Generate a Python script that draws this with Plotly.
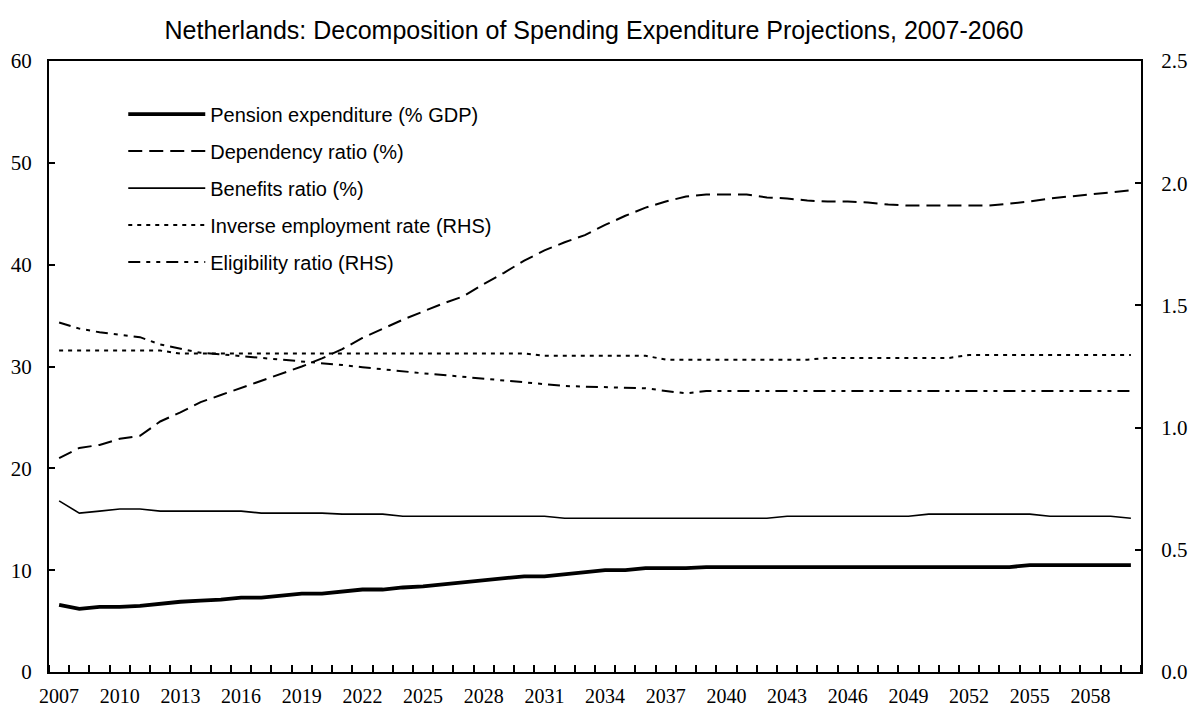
import plotly.graph_objects as go

# Projection years, 2007-2060
years = list(range(2007, 2061))
year_labels = [str(y) for y in range(2007, 2061, 3)]

# Left-hand scale series (%)
pension_exp = [6.6, 6.2, 6.4, 6.4, 6.5, 6.7, 6.9, 7.0, 7.1, 7.3,
               7.3, 7.5, 7.7, 7.7, 7.9, 8.1, 8.1, 8.3, 8.4, 8.6,
               8.8, 9.0, 9.2, 9.4, 9.4, 9.6, 9.8, 10.0, 10.0, 10.2,
               10.2, 10.2, 10.3, 10.3, 10.3, 10.3, 10.3, 10.3, 10.3, 10.3,
               10.3, 10.3, 10.3, 10.3, 10.3, 10.3, 10.3, 10.3, 10.5, 10.5,
               10.5, 10.5, 10.5, 10.5]
dependency_ratio = [21.0, 22.0, 22.3, 22.9, 23.2, 24.6, 25.5, 26.5, 27.2, 27.9,
                    28.6, 29.3, 30.0, 30.8, 31.7, 32.8, 33.7, 34.6, 35.4, 36.2,
                    36.9, 38.1, 39.2, 40.4, 41.4, 42.2, 42.9, 43.9, 44.8, 45.6,
                    46.2, 46.7, 46.9, 46.9, 46.9, 46.6, 46.5, 46.3, 46.2, 46.2,
                    46.1, 45.9, 45.8, 45.8, 45.8, 45.8, 45.8, 46.0, 46.2, 46.5,
                    46.7, 46.9, 47.1, 47.3]
benefits_ratio = [16.8, 15.6, 15.8, 16.0, 16.0, 15.8, 15.8, 15.8, 15.8, 15.8,
                  15.6, 15.6, 15.6, 15.6, 15.5, 15.5, 15.5, 15.3, 15.3, 15.3,
                  15.3, 15.3, 15.3, 15.3, 15.3, 15.1, 15.1, 15.1, 15.1, 15.1,
                  15.1, 15.1, 15.1, 15.1, 15.1, 15.1, 15.3, 15.3, 15.3, 15.3,
                  15.3, 15.3, 15.3, 15.5, 15.5, 15.5, 15.5, 15.5, 15.5, 15.3,
                  15.3, 15.3, 15.3, 15.1]

# Right-hand scale series (ratios)
inverse_employment = [1.315, 1.315, 1.315, 1.315, 1.315, 1.315, 1.303, 1.303, 1.303, 1.303,
                      1.303, 1.303, 1.303, 1.303, 1.303, 1.303, 1.303, 1.303, 1.303, 1.303,
                      1.303, 1.303, 1.303, 1.303, 1.294, 1.294, 1.294, 1.294, 1.294, 1.294,
                      1.278, 1.278, 1.278, 1.278, 1.278, 1.278, 1.278, 1.278, 1.285, 1.285,
                      1.285, 1.285, 1.285, 1.285, 1.285, 1.297, 1.297, 1.297, 1.297, 1.297,
                      1.297, 1.297, 1.297, 1.297]
eligibility_ratio = [1.430, 1.405, 1.390, 1.380, 1.370, 1.340, 1.322, 1.306, 1.300, 1.293,
                     1.286, 1.277, 1.270, 1.263, 1.256, 1.247, 1.238, 1.232, 1.222, 1.215,
                     1.208, 1.202, 1.195, 1.185, 1.178, 1.170, 1.168, 1.167, 1.166, 1.161,
                     1.150, 1.140, 1.150, 1.150, 1.150, 1.150, 1.150, 1.150, 1.150, 1.150,
                     1.150, 1.150, 1.150, 1.150, 1.150, 1.150, 1.150, 1.150, 1.150, 1.150,
                     1.150, 1.150, 1.150, 1.150]

SERIF = "Liberation Serif, Times New Roman, serif"
SANS = "Liberation Sans, Arial, sans-serif"

fig = go.Figure()

series = [
    ("Pension expenditure (% GDP)", pension_exp, "y", dict(width=3.8, dash="solid")),
    ("Dependency ratio (%)", dependency_ratio, "y", dict(width=2, dash="14px,7px")),
    ("Benefits ratio (%)", benefits_ratio, "y", dict(width=1.6, dash="solid")),
    ("Inverse employment rate (RHS)", inverse_employment, "y2", dict(width=2, dash="4px,5px")),
    ("Eligibility ratio (RHS)", eligibility_ratio, "y2", dict(width=2, dash="12px,6px,4px,6px,4px,6px")),
]
for i, (name, vals, axis, line) in enumerate(series):
    fig.add_trace(go.Scatter(
        x=years, y=vals, name=name, yaxis=axis, mode="lines",
        line=dict(color="black", **line), legendgroup=f"g{i}",
    ))

fig.update_layout(
    width=1188, height=711,
    margin=dict(l=49, r=47, t=61, b=39, autoexpand=False),
    paper_bgcolor="white", plot_bgcolor="white",
    title=dict(
        text="Netherlands: Decomposition of Spending Expenditure Projections, 2007-2060",
        x=0.5, xanchor="center", y=0.957, yanchor="middle",
        font=dict(family=SANS, size=25, color="black"),
    ),
    showlegend=True,
    legend=dict(
        x=0.068, xanchor="left", y=0.945, yanchor="top",
        bgcolor="rgba(0,0,0,0)", borderwidth=0,
        font=dict(family=SANS, size=20, color="black"),
        itemwidth=77, tracegroupgap=8,
    ),
    xaxis=dict(
        range=[2006.5, 2060.5], automargin=False,
        tickmode="array", tickvals=[int(t) for t in year_labels], ticktext=year_labels,
        ticks="", showgrid=False, zeroline=False,
        showline=True, linecolor="black", linewidth=2, mirror=True,
        tickfont=dict(family=SERIF, size=20, color="black"),
        ticklabelstandoff=5,
        minor=dict(tickmode="linear", tick0=2006.5, dtick=1, ticks="inside",
                   ticklen=7, tickwidth=1.5, tickcolor="black", showgrid=False),
    ),
    yaxis=dict(
        range=[0, 60], dtick=10, tick0=0, automargin=False,
        ticks="inside", ticklen=6, tickwidth=1.5, tickcolor="black",
        showgrid=False, zeroline=False,
        showline=True, linecolor="black", linewidth=2,
        tickfont=dict(family=SERIF, size=21, color="black"),
        ticklabelstandoff=11,
    ),
    yaxis2=dict(
        range=[0, 2.5], dtick=0.5, tick0=0, tickformat=".1f", automargin=False,
        overlaying="y", side="right",
        ticks="inside", ticklen=6, tickwidth=1.5, tickcolor="black",
        showgrid=False, zeroline=False,
        showline=True, linecolor="black", linewidth=2,
        tickfont=dict(family=SERIF, size=21, color="black"),
        ticklabelstandoff=14,
    ),
)

fig.write_html("out.html")
